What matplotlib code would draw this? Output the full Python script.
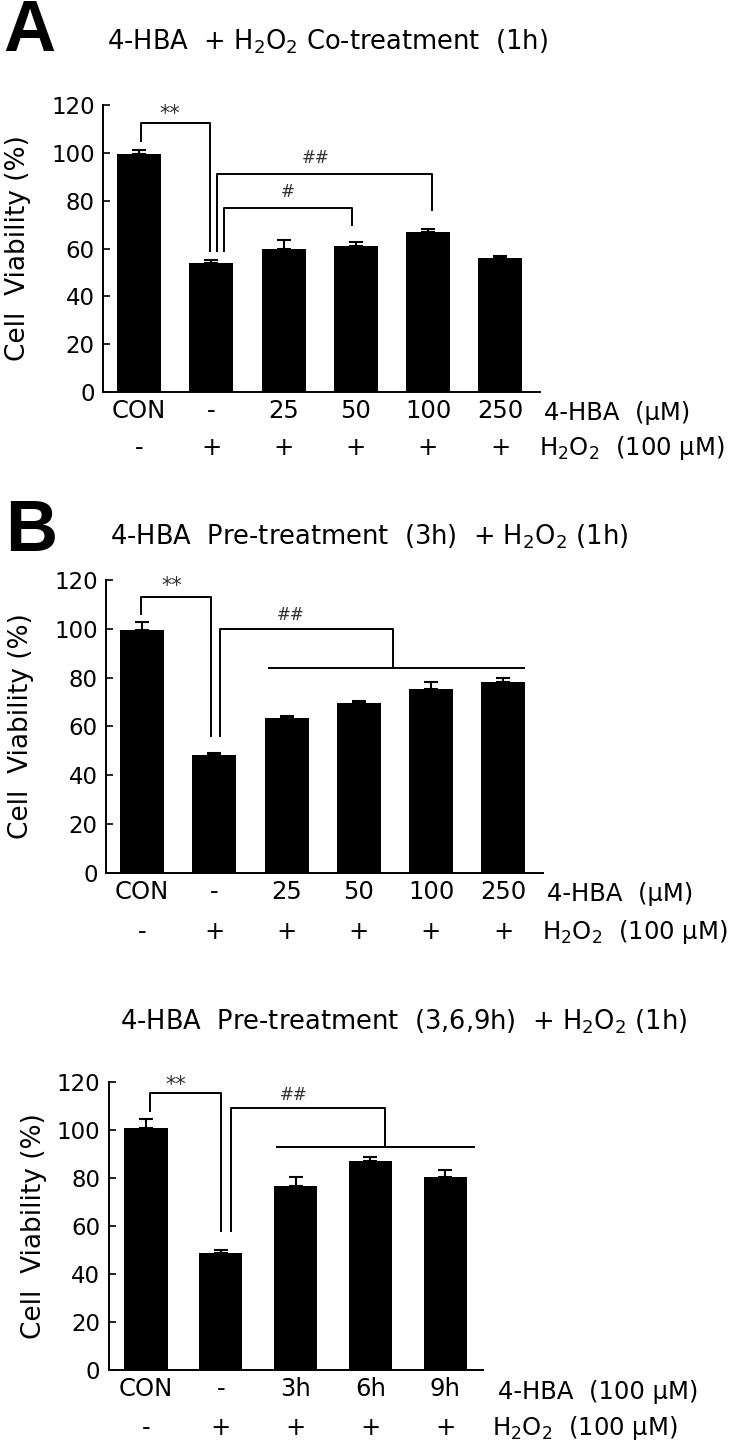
import matplotlib

matplotlib.use("Agg")
import matplotlib.pyplot as plt
import matplotlib.transforms as mtransforms

plt.rcParams["font.family"] = ["DejaVu Sans"]
plt.rcParams["mathtext.fontset"] = "dejavusans"

# panel A: co-treatment
hba_a = ["CON", "-", "25", "50", "100", "250"]
h2o2_a = ["-", "+", "+", "+", "+", "+"]
viab_a = [99.5, 54.0, 60.0, 61.0, 67.0, 56.0]
err_a = [1.8, 1.0, 3.6, 1.8, 1.2, 0.8]

# panel B: pre-treatment 3h
hba_b = ["CON", "-", "25", "50", "100", "250"]
h2o2_b = ["-", "+", "+", "+", "+", "+"]
viab_b = [99.5, 48.5, 63.3, 69.8, 75.4, 78.1]
err_b = [3.2, 0.8, 0.8, 0.6, 2.7, 1.9]

# panel C: pre-treatment 3/6/9h
hba_c = ["CON", "-", "3h", "6h", "9h"]
h2o2_c = ["-", "+", "+", "+", "+"]
viab_c = [101.0, 48.8, 76.7, 87.0, 80.4]
err_c = [3.7, 1.0, 3.7, 1.9, 2.8]

H2O2 = r"H$_\mathregular{2}$O$_\mathregular{2}$"
TXT = 17.5
TITLE = 18.5


def bracket(ax, x1, x2, y, y1, y2, label, lx, ly, size=12):
    ax.plot([x1, x1, x2, x2], [y1, y, y, y2], color="black", lw=1.4, clip_on=False)
    ax.text(lx, ly, label, ha="center", va="bottom", fontsize=size, color="#333333")


def draw_panel(ax, labels, h2o2, values, errors, width, hba_caption, cap_x, rows):
    x = list(range(len(values)))
    ax.bar(x, values, width=width, color="black", zorder=2)
    ax.errorbar(x, values, yerr=[[0] * len(errors), errors], fmt="none",
                ecolor="black", elinewidth=1.5, capsize=5, capthick=1.5, zorder=1)
    ax.set_ylim(0, 120)
    ax.set_xlim(-0.5, len(values) - 0.45)
    ax.set_yticks(range(0, 121, 20))
    ax.tick_params(axis="y", direction="in", length=5, width=1.2, labelsize=16.5, pad=6)
    ax.set_xticks(x)
    ax.set_xticklabels(labels, fontsize=TXT)
    ax.tick_params(axis="x", length=0, pad=5)
    for side in ("top", "right"):
        ax.spines[side].set_visible(False)
    for side in ("left", "bottom"):
        ax.spines[side].set_linewidth(1.4)
    ax.set_ylabel("Cell  Viability (%)", fontsize=19)
    ax.yaxis.set_label_coords(-0.165, 0.5)

    trans = mtransforms.blended_transform_factory(ax.transData, ax.transAxes)
    for xi, sign in zip(x, h2o2):
        ax.text(xi, rows[1], sign, ha="center", va="center", fontsize=TXT, transform=trans)
    ax.text(cap_x, rows[0], hba_caption, ha="left", va="center", fontsize=TXT, transform=trans)
    ax.text(cap_x - 0.07, rows[1], H2O2 + "  (100 μM)", ha="left", va="center",
            fontsize=TXT, transform=trans)


fig = plt.figure(figsize=(7.43, 14.48), dpi=100)

# ---- A ----
ax_a = fig.add_axes([103 / 743, 1 - 392 / 1448, 437 / 743, 287 / 1448])
draw_panel(ax_a, hba_a, h2o2_a, viab_a, err_a, 0.61, "4-HBA  (μM)", 5.61, (-0.072, -0.195))
bracket(ax_a, 0.03, 0.98, 112.6, 105, 59, "**", 0.42, 112, size=15)
bracket(ax_a, 1.08, 4.05, 91, 59, 76, "##", 2.45, 94)
bracket(ax_a, 1.17, 2.95, 77, 59, 70, "#", 2.05, 80)

# ---- B ----
ax_b = fig.add_axes([106 / 743, 1 - 873 / 1448, 437 / 743, 293 / 1448])
draw_panel(ax_b, hba_b, h2o2_b, viab_b, err_b, 0.61, "4-HBA  (μM)", 5.6, (-0.072, -0.2))
bracket(ax_b, -0.02, 0.95, 113, 106, 56, "**", 0.41, 113.5, size=15)
bracket(ax_b, 1.08, 3.48, 100, 56, 84.1, "##", 2.06, 102)
ax_b.plot([1.76, 5.29], [84.1, 84.1], color="black", lw=1.4)

# ---- C ----
ax_c = fig.add_axes([108.6 / 743, 1 - 1370 / 1448, 374 / 743, 288 / 1448])
draw_panel(ax_c, hba_c, h2o2_c, viab_c, err_c, 0.58, "4-HBA  (100 μM)", 4.7, (-0.078, -0.2))
ax_c.set_xlim(-0.5, 4.5)
bracket(ax_c, 0.06, 1.0, 115.4, 108, 58, "**", 0.4, 114.5, size=15)
bracket(ax_c, 1.13, 3.2, 109, 58, 93, "##", 1.97, 111)
ax_c.plot([1.75, 4.38], [93, 93], color="black", lw=1.4)

# panel letters and titles
fig.text(3 / 743, 1 - 32 / 1448, "A", fontsize=52, fontweight="bold", va="center",
         family="Liberation Sans")
fig.text(5 / 743, 1 - 532 / 1448, "B", fontsize=52, fontweight="bold", va="center",
         family="Liberation Sans")
fig.text(107 / 743, 1 - 42 / 1448, "4-HBA  + " + H2O2 + " Co-treatment  (1h)",
         fontsize=TITLE, va="center")
fig.text(110 / 743, 1 - 537 / 1448, "4-HBA  Pre-treatment  (3h)  + " + H2O2 + " (1h)",
         fontsize=TITLE, va="center")
fig.text(120 / 743, 1 - 1022 / 1448, "4-HBA  Pre-treatment  (3,6,9h)  + " + H2O2 + " (1h)",
         fontsize=TITLE, va="center")

fig.savefig("out.png", dpi=100)
